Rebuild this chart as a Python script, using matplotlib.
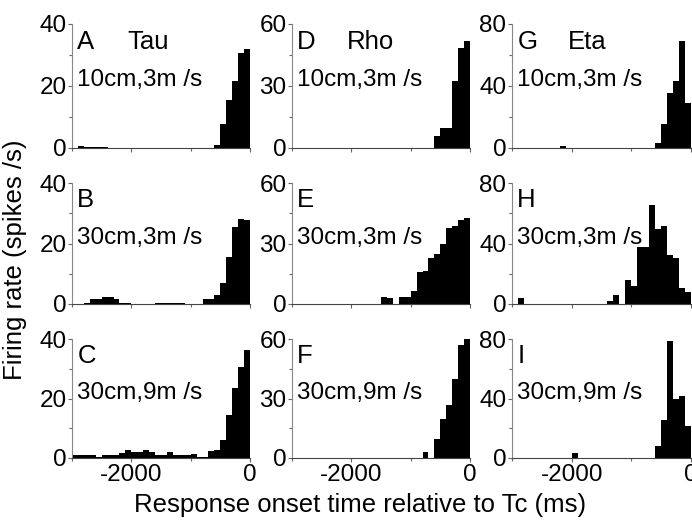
import numpy as np
import matplotlib
matplotlib.use("Agg")
import matplotlib.pyplot as plt
from matplotlib.ticker import MultipleLocator

plt.rcParams['font.family'] = ['Liberation Sans', 'DejaVu Sans']
plt.rcParams['axes.unicode_minus'] = False

# bin left edges (ms, 100 ms bins) and firing rates (spikes/s)
a_left = [-2900, -2800, -2700, -2600, -2500, -600, -500, -400, -300, -200, -100]
a_rate = [0.8, 0.2, 0.2, 0.2, 0.2, 1.1, 7.6, 15.5, 21.7, 30.8, 31.9]

b_left = [-2800, -2700, -2600, -2500, -2400, -2300, -2200, -2100,
          -1600, -1500, -1400, -1300, -1200,
          -800, -700, -600, -500, -400, -300, -200, -100]
b_rate = [0.4, 1.5, 1.5, 2.2, 2.2, 1.5, 0.4, 0.4,
          0.4, 0.4, 0.4, 0.4, 0.4,
          1.5, 1.5, 3.0, 7.0, 15.4, 25.5, 28.2, 27.7]

c_left = [-3000, -2900, -2800, -2700, -2600, -2500, -2400, -2300, -2200, -2100,
          -2000, -1900, -1800, -1700, -1600, -1500, -1400, -1300, -1200, -1100,
          -1000, -900, -800, -700, -600, -500, -400, -300, -200, -100]
c_rate = [0.9, 0.9, 0.9, 0.9, 0.2, 0.9, 0.9, 0.9, 1.7, 2.8,
          1.9, 1.9, 2.8, 1.9, 0.9, 0.9, 1.9, 0.9, 0.9, 0.9,
          1.5, 0.2, 0.2, 2.2, 2.8, 6.2, 14.3, 23.4, 30.7, 36.3]

d_left = [-600, -500, -400, -300, -200, -100]
d_rate = [6.0, 9.6, 9.6, 32.4, 48.3, 52.0]

e_left = [-1500, -1400, -1200, -1100, -1000, -900, -800, -700, -600, -500,
          -400, -300, -200, -100]
e_rate = [3.3, 3.0, 3.3, 3.3, 6.6, 16.0, 16.3, 23.0, 24.7, 29.7,
          37.7, 38.6, 41.5, 42.7]

f_left = [-800, -600, -500, -400, -300, -200, -100]
f_rate = [2.9, 9.6, 19.9, 26.6, 40.0, 57.0, 60.0]

g_left = [-2200, -600, -500, -400, -300, -200, -100]
g_rate = [1.5, 3.5, 15.4, 35.2, 43.2, 69.0, 29.3]

h_left = [-2900, -1400, -1300, -1100, -1000, -900, -800, -700, -600, -500,
          -400, -300, -200, -100]
h_rate = [4.2, 2.0, 5.9, 15.8, 12.1, 37.8, 37.8, 65.7, 49.5, 51.6,
          32.3, 30.1, 10.3, 7.7]

i_left = [-2000, -600, -500, -400, -300, -200, -100]
i_rate = [3.4, 7.9, 25.8, 78.7, 39.8, 41.6, 21.8]

panel_letters = ['A', 'B', 'C', 'D', 'E', 'F', 'G', 'H', 'I']
model_names = ['Tau', 'Rho', 'Eta']
conditions = ['10cm,3m /s', '30cm,3m /s', '30cm,9m /s']
y_max = [40, 60, 80]

data = [(a_left, a_rate), (b_left, b_rate), (c_left, c_rate),
        (d_left, d_rate), (e_left, e_rate), (f_left, f_rate),
        (g_left, g_rate), (h_left, h_rate), (i_left, i_rate)]

fig = plt.figure(figsize=(6.92, 5.20), dpi=100)

col_x = [72, 292, 512]
col_w = [178, 178, 179]
row_y = [(24, 148), (183, 304), (339, 458)]

for col in range(3):
    for row in range(3):
        k = col * 3 + row
        top, bot = row_y[row]
        ax = fig.add_axes([col_x[col] / 692, 1 - bot / 520,
                           col_w[col] / 692, (bot - top) / 520])
        left, rate = data[k]
        ax.bar(left, rate, width=100, align='edge', color='black', linewidth=0)
        ax.set_xlim(-3000, 0)
        ax.set_ylim(0, y_max[col])

        for s in ['top', 'right']:
            ax.spines[s].set_visible(False)
        ax.spines['left'].set_color('#888888')
        ax.spines['bottom'].set_color('#444444')

        ax.set_yticks([0, y_max[col] / 2, y_max[col]])
        ax.set_yticklabels([str(v) for v in [0, y_max[col] // 2, y_max[col]]])
        ax.yaxis.set_minor_locator(MultipleLocator(y_max[col] / 4))
        ax.set_xticks([-2000, 0])
        ax.xaxis.set_minor_locator(MultipleLocator(1000))
        ax.tick_params(which='major', length=3, width=0.8, colors='#666666',
                       labelcolor='black', labelsize=17.5, pad=1)
        ax.tick_params(which='minor', length=2, width=0.8, colors='#666666')
        if row < 2:
            ax.tick_params(axis='x', labelbottom=False)

        ax.text(0.03, 0.8, panel_letters[k], transform=ax.transAxes,
                fontsize=18.5, ha='left', va='baseline')
        if row == 0:
            ax.text(0.31, 0.8, model_names[col], transform=ax.transAxes,
                    fontsize=18.5, ha='left', va='baseline')
        ax.text(0.03, 0.5, conditions[row], transform=ax.transAxes,
                fontsize=17.5, ha='left', va='baseline')

fig.text(0.022, 0.5, 'Firing rate (spikes /s)', rotation=90, fontsize=18.5,
         ha='center', va='center')
fig.text(0.52, 0.028, 'Response onset time relative to Tc (ms)', fontsize=18.5,
         ha='center', va='center')

fig.savefig('out.png', dpi=100)
